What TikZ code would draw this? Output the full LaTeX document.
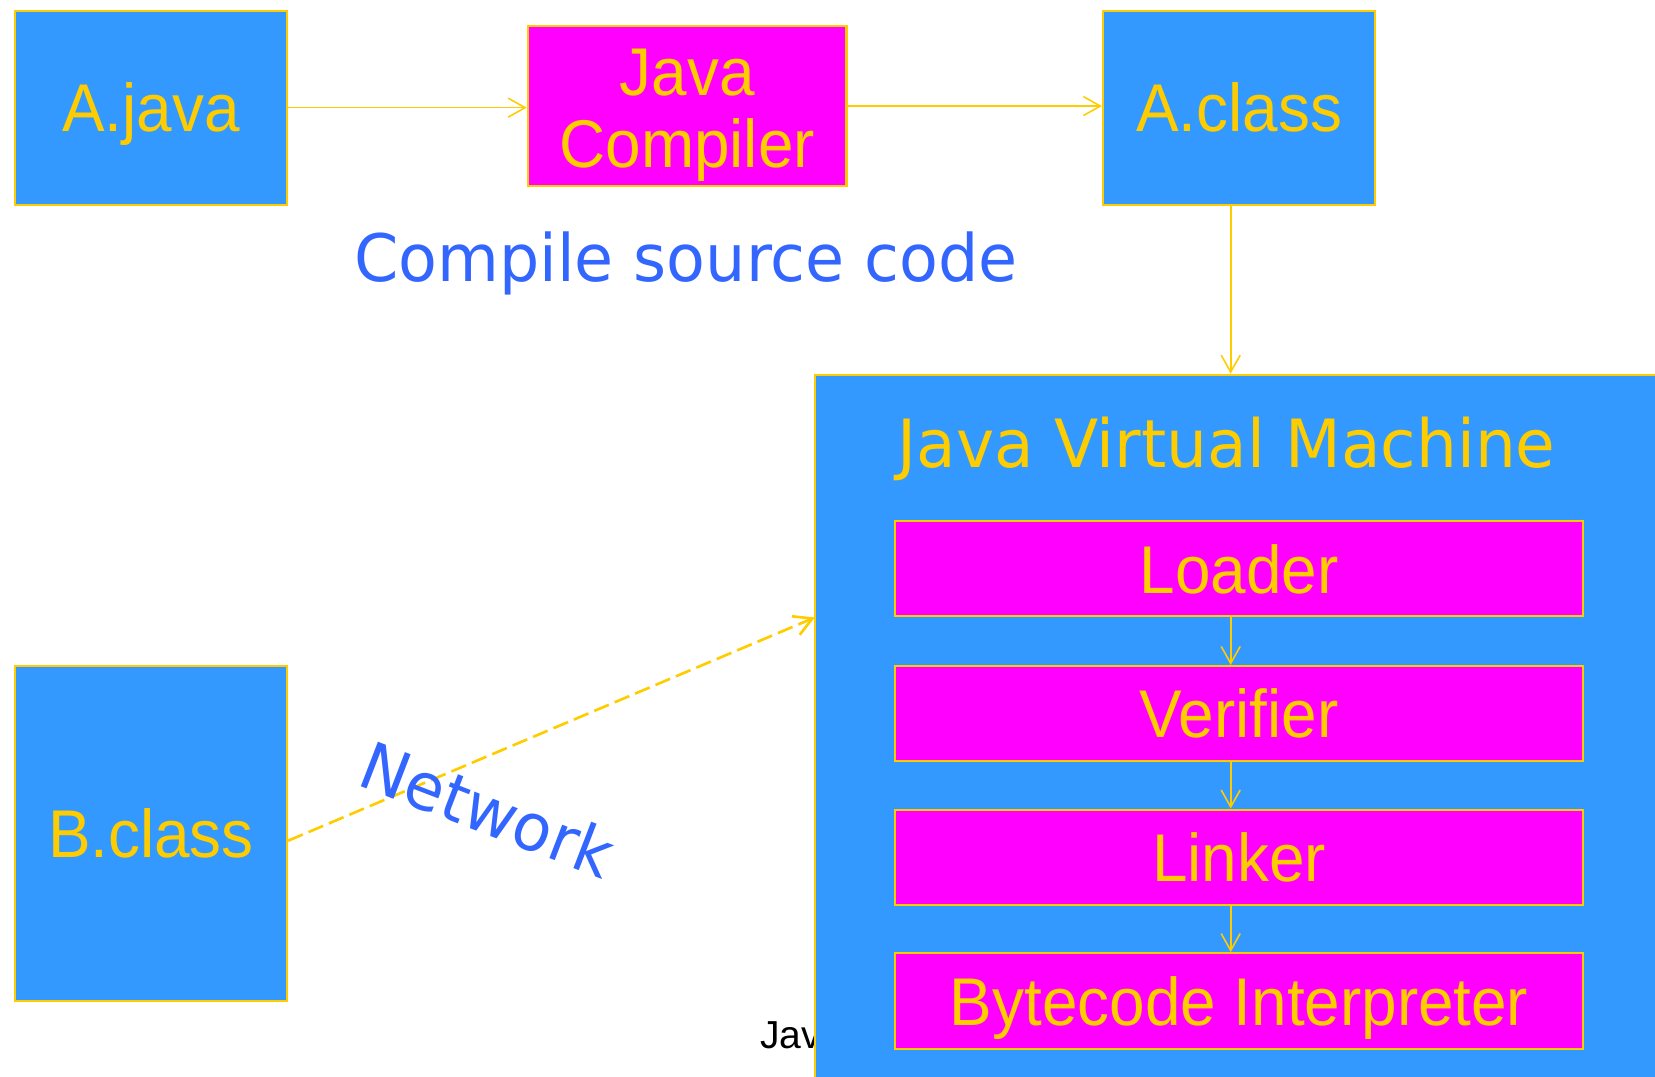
\documentclass[tikz,border=0pt]{standalone}
\usepackage{fontspec}
\usetikzlibrary{arrows.meta}
\newfontfamily\boxfont[FakeStretch=0.945]{Liberation Sans}
\newfontfamily\labfont[FakeStretch=0.97]{DejaVu Sans}
\newfontfamily\footfont{Liberation Sans}
\definecolor{boxblue}{HTML}{3399FF}
\definecolor{boxyellow}{HTML}{FFCC00}
\definecolor{boxmag}{HTML}{FF00FF}
\definecolor{labblue}{HTML}{3366FF}
\tikzset{
  bluebox/.style={draw=boxyellow, line width=2pt, fill=boxblue, inner sep=0pt,
    text=boxyellow, font=\boxfont\fontsize{64}{68}\selectfont,
    text height=46pt, text depth=0pt},
  magbox/.style={bluebox, fill=boxmag},
  conn/.style={draw=boxyellow, line width=1.5pt,
    -{Straight Barb[length=16pt,width=18pt]}},
  netconn/.style={draw=boxyellow, line width=2.5pt, dash pattern=on 15pt off 6pt,
    -{Straight Barb[length=17pt,width=19pt]}},
  lab/.style={text=labblue, font=\labfont\fontsize{62}{66}\selectfont, inner sep=0pt, anchor=base},
}
\begin{document}
\begin{tikzpicture}[x=1pt,y=-1pt]
\useasboundingbox (0,0) rectangle (1568,1020);
% footer text partly hidden by the JVM box
\node[anchor=base west, inner sep=0pt, font=\footfont\fontsize{37}{40}\selectfont] (foot) at (720,993) {Jav};
% top row
\node[bluebox, minimum width=258pt, minimum height=184pt] (ajava) at (143,102) {A.java};
\node[magbox, minimum width=302pt, minimum height=151pt, align=center,
      text height=116pt, text depth=0pt] (compiler) at (651,100.5) {Java\\Compiler};
\node[bluebox, minimum width=258pt, minimum height=184pt] (aclass) at (1174,102) {A.class};
\node[lab] (compilelab) at (650,267) {Compile source code};
% JVM
\node[bluebox, minimum width=808pt, minimum height=680pt] (jvm) at (1176,695) {};
\node[lab, text=boxyellow, font=\labfont\fontsize{63}{66}\selectfont] (jvmtitle) at (1162,443) {Java Virtual Machine};
\node[magbox, minimum width=652pt, minimum height=90pt] (loader) at (1174,539) {Loader};
\node[magbox, minimum width=652pt, minimum height=90pt] (verifier) at (1174,676) {Verifier};
\node[magbox, minimum width=652pt, minimum height=90pt] (linker) at (1174,812) {Linker};
\node[magbox, minimum width=652pt, minimum height=91pt] (bytecode) at (1174,948.5) {Bytecode Interpreter};
% B.class
\node[bluebox, minimum width=258pt, minimum height=317pt] (bclass) at (143,789.5) {B.class};
% connectors
\coordinate (vx) at (1166,0);
\draw[conn] (ajava.east) -- (ajava.east -| compiler.west);
\draw[conn] (compiler.east) -- (compiler.east -| aclass.west);
\draw[conn] (aclass.south -| vx) -- (jvm.north -| vx);
\draw[conn] (loader.south -| vx) -- (verifier.north -| vx);
\draw[conn] (verifier.south -| vx) -- (linker.north -| vx);
\draw[conn] (linker.south -| vx) -- (bytecode.north -| vx);
\coordinate (netend) at (772,585);
\draw[netconn] ([yshift=-7pt]bclass.east) -- (netend);
\node[lab, rotate=-21] (netlab) at (454,788) {Network};
\end{tikzpicture}
\end{document}
